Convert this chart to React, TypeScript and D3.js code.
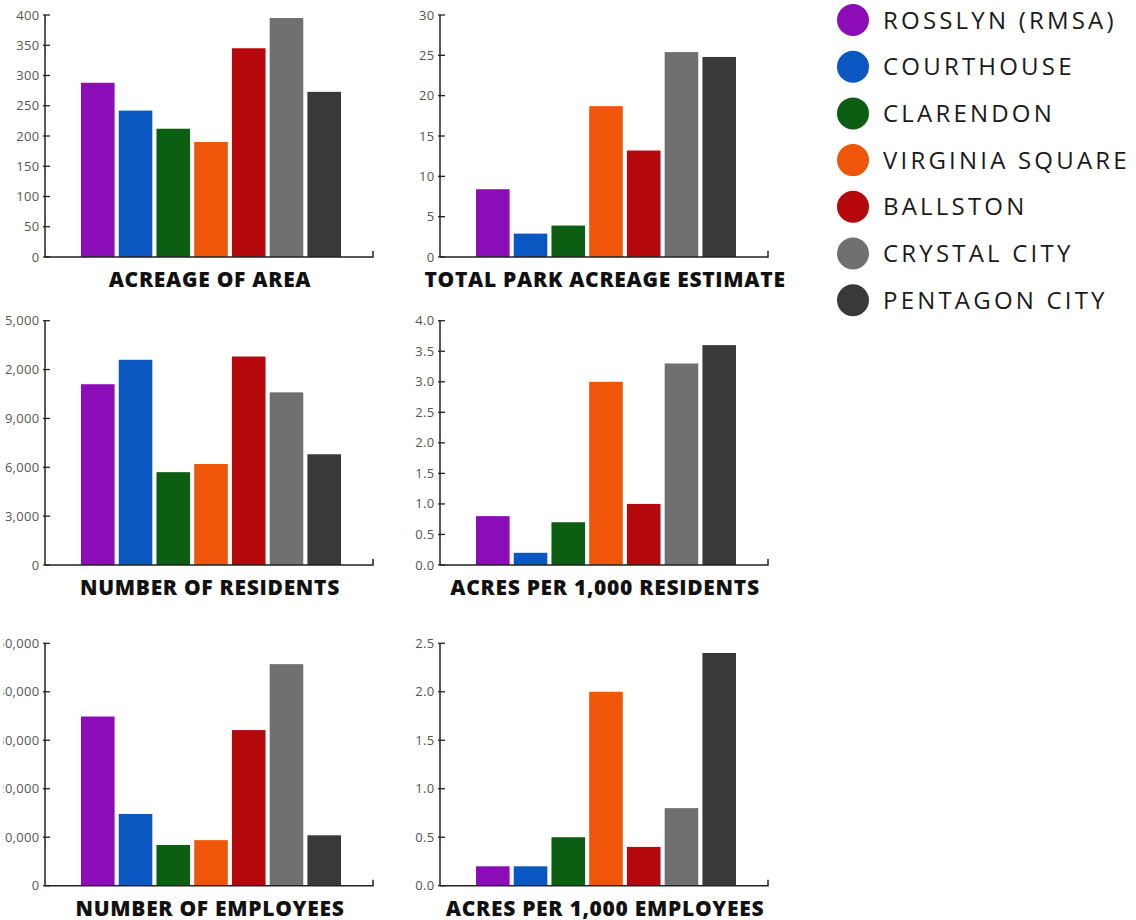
import React from "react";
import * as d3 from "d3";

const categories = [
  "ROSSLYN (RMSA)",
  "COURTHOUSE",
  "CLARENDON",
  "VIRGINIA SQUARE",
  "BALLSTON",
  "CRYSTAL CITY",
  "PENTAGON CITY",
];
const colors = ["#8a0db8", "#0a57c2", "#0c5e12", "#f0560a", "#b5080c", "#707070", "#393939"];

const acreageOfArea = [288, 242, 212, 190, 345, 395, 273];
const totalParkAcreage = [8.4, 2.9, 3.9, 18.7, 13.2, 25.4, 24.8];
const residents = [11100, 12600, 5700, 6200, 12800, 10600, 6800];
const acresPer1000Residents = [0.8, 0.2, 0.7, 3.0, 1.0, 3.3, 3.6];
const employees = [34900, 14800, 8400, 9400, 32100, 45700, 10400];
const acresPer1000Employees = [0.2, 0.2, 0.5, 2.0, 0.4, 0.8, 2.4];

const ticksAcreage = [0, 50, 100, 150, 200, 250, 300, 350, 400];
const ticksPark = [0, 5, 10, 15, 20, 25, 30];
const ticksResidents = [0, 3000, 6000, 9000, 12000, 15000];
const ticksPerRes = [0, 0.5, 1, 1.5, 2, 2.5, 3, 3.5, 4];
const ticksEmployees = [0, 10000, 20000, 30000, 40000, 50000];
const ticksPerEmp = [0, 0.5, 1, 1.5, 2, 2.5];

const titles = [
  "ACREAGE OF AREA",
  "TOTAL PARK ACREAGE ESTIMATE",
  "NUMBER OF RESIDENTS",
  "ACRES PER 1,000 RESIDENTS",
  "NUMBER OF EMPLOYEES",
  "ACRES PER 1,000 EMPLOYEES",
];

const panels = [
  { values: acreageOfArea, ticks: ticksAcreage, fmt: d3.format("d"), title: titles[0], col: 0, row: 0 },
  { values: totalParkAcreage, ticks: ticksPark, fmt: d3.format("d"), title: titles[1], col: 1, row: 0 },
  { values: residents, ticks: ticksResidents, fmt: d3.format(","), title: titles[2], col: 0, row: 1 },
  { values: acresPer1000Residents, ticks: ticksPerRes, fmt: d3.format(".1f"), title: titles[3], col: 1, row: 1 },
  { values: employees, ticks: ticksEmployees, fmt: d3.format(","), title: titles[4], col: 0, row: 2 },
  { values: acresPer1000Employees, ticks: ticksPerEmp, fmt: d3.format(".1f"), title: titles[5], col: 1, row: 2 },
];

const colX = [45, 440];
const rowTop = [15, 320.7, 643.3];
const rowBottom = [257, 565, 885.7];
const axisW = 328;

function Panel({ p }: { p: any }) {
  const x0 = colX[p.col];
  const top = rowTop[p.row];
  const bottom = rowBottom[p.row];
  const y = d3.scaleLinear().domain([0, p.ticks[p.ticks.length - 1]]).range([bottom, top]);
  const x = d3.scaleBand<number>().domain(d3.range(categories.length)).range([x0 + 36, x0 + 296]).paddingInner(0.11);
  return (
    <g>
      {p.values.map((v: number, i: number) => (
        <rect key={i} x={x(i)} y={y(v)} width={x.bandwidth()} height={bottom - y(v)} fill={colors[i]} />
      ))}
      <line x1={x0} x2={x0} y1={top} y2={bottom} stroke="#222" strokeWidth={1.5} />
      <path d={`M${x0},${bottom}H${x0 + axisW}V${bottom - 6}`} fill="none" stroke="#222" strokeWidth={1.5} />
      <g clipPath={p.col === 0 ? "url(#leftEdge)" : undefined}>
        {p.ticks.map((t: number) => (
          <text
            key={t}
            x={x0 - 5.5}
            y={y(t)}
            dy="0.35em"
            textAnchor="end"
            fontFamily="'Open Sans', sans-serif"
            fontSize={13}
            letterSpacing={0.3}
            fill="#555"
          >
            {p.fmt(t)}
          </text>
        ))}
      </g>
      {p.ticks.map((t: number) => (
        <line key={t} x1={x0 - 2} x2={x0 + 5} y1={y(t)} y2={y(t)} stroke="#222" strokeWidth={1.3} />
      ))}
      <text
        x={x0 + 165}
        y={bottom + 30}
        textAnchor="middle"
        fontFamily="'Open Sans', sans-serif"
        fontWeight={800}
        fontSize={21}
        letterSpacing={0.7}
        fill="#111"
      >
        {p.title}
      </text>
    </g>
  );
}

export default function App() {
  return (
    <svg
      width={1136}
      height={920}
      style={{ position: "absolute", left: 0, top: 0, background: "#fff" }}
    >
      <defs>
        <clipPath id="leftEdge">
          <rect x={3.5} y={0} width={500} height={920} />
        </clipPath>
      </defs>
      <rect width={1136} height={920} fill="#fff" />
      {panels.map((p, i) => (
        <Panel key={i} p={p} />
      ))}
      {categories.map((c, i) => {
        const cy = 20 + i * 46.7;
        return (
          <g key={c}>
            <circle cx={853} cy={cy} r={16} fill={colors[i]} />
            <text
              x={883}
              y={cy + 8.5}
              fontFamily="'Open Sans', sans-serif"
              fontSize={24}
              letterSpacing={3.2}
              fill="#1a1a1a"
            >
              {c}
            </text>
          </g>
        );
      })}
    </svg>
  );
}
